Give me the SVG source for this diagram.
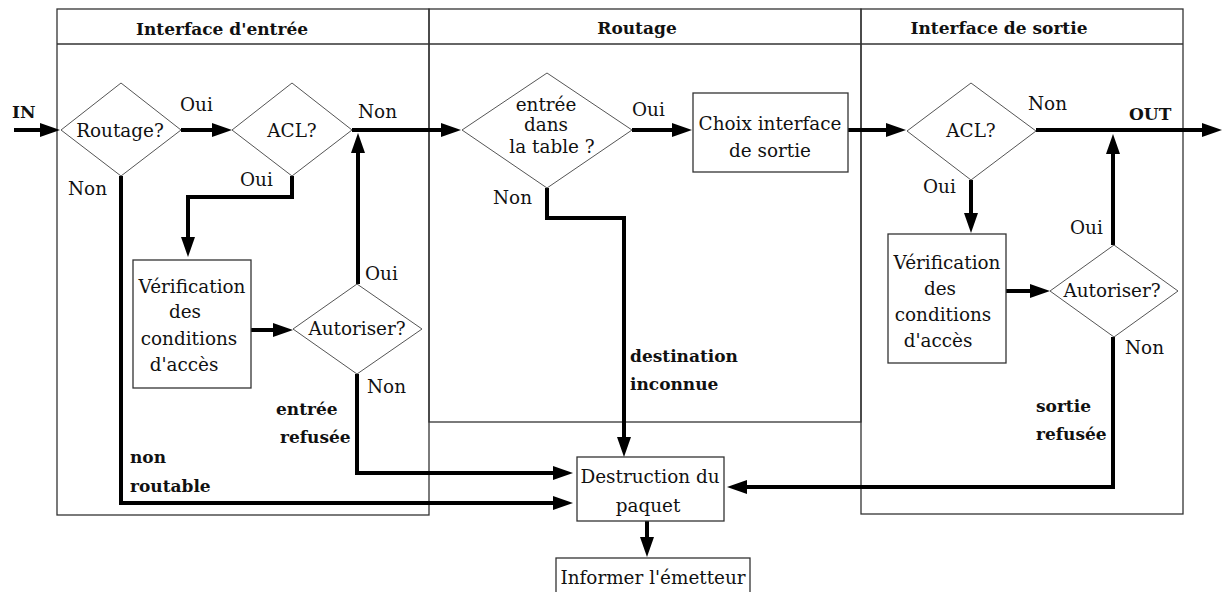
<svg xmlns="http://www.w3.org/2000/svg" width="1227" height="592" viewBox="0 0 1227 592">
  <defs>
    <marker id="arrow" markerUnits="userSpaceOnUse" markerWidth="20" markerHeight="14" refX="2" refY="7" orient="auto">
      <path d="M0,0 L20,7 L0,14 z" fill="#000"/>
    </marker>
    <style>
      .panel { fill: none; stroke: #333; stroke-width: 1.3; }
      .box { fill: #fff; stroke: #333; stroke-width: 1.3; }
      .dia { fill: #fff; stroke: #555; stroke-width: 1; }
      .flow { fill: none; stroke: #000; stroke-width: 4; stroke-linejoin: miter; }
      .flow.arr { marker-end: url(#arrow); }
      text { font-family: "DejaVu Serif", "Liberation Serif", serif; font-size: 18.4px; fill: #111; }
      .c { text-anchor: middle; }
      .b { font-weight: bold; font-size: 17px; }
      .h { font-weight: bold; font-size: 17px; text-anchor: middle; }
    </style>
  </defs>
  <rect width="1227" height="592" fill="#fff"/>

  <!-- swimlanes -->
  <g id="lanes">
    <rect class="panel" x="57" y="9" width="372" height="506"/>
    <rect class="panel" x="429" y="9" width="432" height="413"/>
    <rect class="panel" x="861" y="9" width="322" height="505"/>
    <line class="panel" x1="57" y1="44" x2="1183" y2="44"/>
    <text class="h" x="222" y="35">Interface d'entrée</text>
    <text class="h" x="637" y="34">Routage</text>
    <text class="h" x="999" y="34">Interface de sortie</text>
  </g>

  <!-- connectors -->
  <g id="connectors">
    <path class="flow arr" d="M14,130 H42"/>
    <path class="flow arr" d="M181,130 H214"/>
    <path class="flow arr" d="M352,130 H443"/>
    <path class="flow arr" d="M632,130 H674"/>
    <path class="flow arr" d="M848,130 H888"/>
    <path class="flow arr" d="M1036,130 H1204"/>
    <path class="flow arr" d="M1113,245 V152"/>
    <path class="flow arr" d="M971,180 V215"/>
    <path class="flow arr" d="M1006,291 H1032"/>
    <path class="flow arr" d="M1113,337 V487 H745"/>
    <path class="flow arr" d="M547,188 V218 H624 V439"/>
    <path class="flow arr" d="M647,521 V539"/>
    <path class="flow arr" d="M292,176 V197 H188 V239"/>
    <path class="flow arr" d="M251,330 H275"/>
    <path class="flow arr" d="M358,284 V151"/>
    <path class="flow arr" d="M357,374 V473 H555"/>
    <path class="flow arr" d="M121,176 V503 H555"/>
  </g>

  <!-- input interface -->
  <g id="in-routage">
    <polygon class="dia" points="61,130 121,83 181,130 121,176"/>
    <text class="c" x="120" y="137">Routage?</text>
  </g>
  <g id="in-acl">
    <polygon class="dia" points="232,130 292,83 352,130 292,176"/>
    <text class="c" x="292" y="137">ACL?</text>
  </g>
  <g id="in-verif">
    <rect class="box" x="133" y="260" width="118" height="128"/>
    <text class="c" x="192" y="293">Vérification</text>
    <text class="c" x="185" y="318">des</text>
    <text class="c" x="189" y="345">conditions</text>
    <text class="c" x="184" y="371">d'accès</text>
  </g>
  <g id="in-autoriser">
    <polygon class="dia" points="293,329 357,284 422,329 357,374"/>
    <text class="c" x="357" y="335">Autoriser?</text>
  </g>

  <!-- routing -->
  <g id="rt-table">
    <polygon class="dia" points="462,130 547,73 632,130 547,188"/>
    <text class="c" x="546" y="111">entrée</text>
    <text class="c" x="546" y="131">dans</text>
    <text class="c" x="552" y="153">la table ?</text>
  </g>
  <g id="rt-choix">
    <rect class="box" x="693" y="93" width="155" height="79"/>
    <text class="c" x="770" y="130">Choix interface</text>
    <text class="c" x="770" y="157">de sortie</text>
  </g>

  <!-- output interface -->
  <g id="out-acl">
    <polygon class="dia" points="907,131 971,83 1036,131 971,180"/>
    <text class="c" x="971" y="137">ACL?</text>
  </g>
  <g id="out-verif">
    <rect class="box" x="888" y="234" width="118" height="129"/>
    <text class="c" x="947" y="269">Vérification</text>
    <text class="c" x="940" y="295">des</text>
    <text class="c" x="943" y="321">conditions</text>
    <text class="c" x="938" y="347">d'accès</text>
  </g>
  <g id="out-autoriser">
    <polygon class="dia" points="1050,291 1114,245 1178,291 1114,337"/>
    <text class="c" x="1112" y="297">Autoriser?</text>
  </g>

  <!-- drop path -->
  <g id="destruction">
    <rect class="box" x="577" y="457" width="147" height="64"/>
    <text class="c" x="650" y="483">Destruction du</text>
    <text class="c" x="648" y="512">paquet</text>
  </g>
  <g id="informer">
    <rect class="box" x="556" y="558" width="194" height="40"/>
    <text class="c" x="653" y="584">Informer l'émetteur</text>
  </g>

  <!-- branch labels -->
  <g id="labels">
    <text class="b" x="12" y="118">IN</text>
    <text x="180" y="111">Oui</text>
    <text x="358" y="118">Non</text>
    <text x="68" y="195">Non</text>
    <text x="240" y="186">Oui</text>
    <text x="365" y="280">Oui</text>
    <text x="367" y="393">Non</text>
    <text class="b" x="276" y="415">entrée</text>
    <text class="b" x="280" y="443">refusée</text>
    <text class="b" x="130" y="463">non</text>
    <text class="b" x="130" y="492">routable</text>
    <text x="632" y="116">Oui</text>
    <text x="493" y="204">Non</text>
    <text class="b" x="630" y="362">destination</text>
    <text class="b" x="630" y="390">inconnue</text>
    <text x="1028" y="110">Non</text>
    <text class="b" x="1129" y="120">OUT</text>
    <text x="923" y="193">Oui</text>
    <text x="1070" y="234">Oui</text>
    <text x="1125" y="354">Non</text>
    <text class="b" x="1036" y="412">sortie</text>
    <text class="b" x="1036" y="440">refusée</text>
  </g>
</svg>
